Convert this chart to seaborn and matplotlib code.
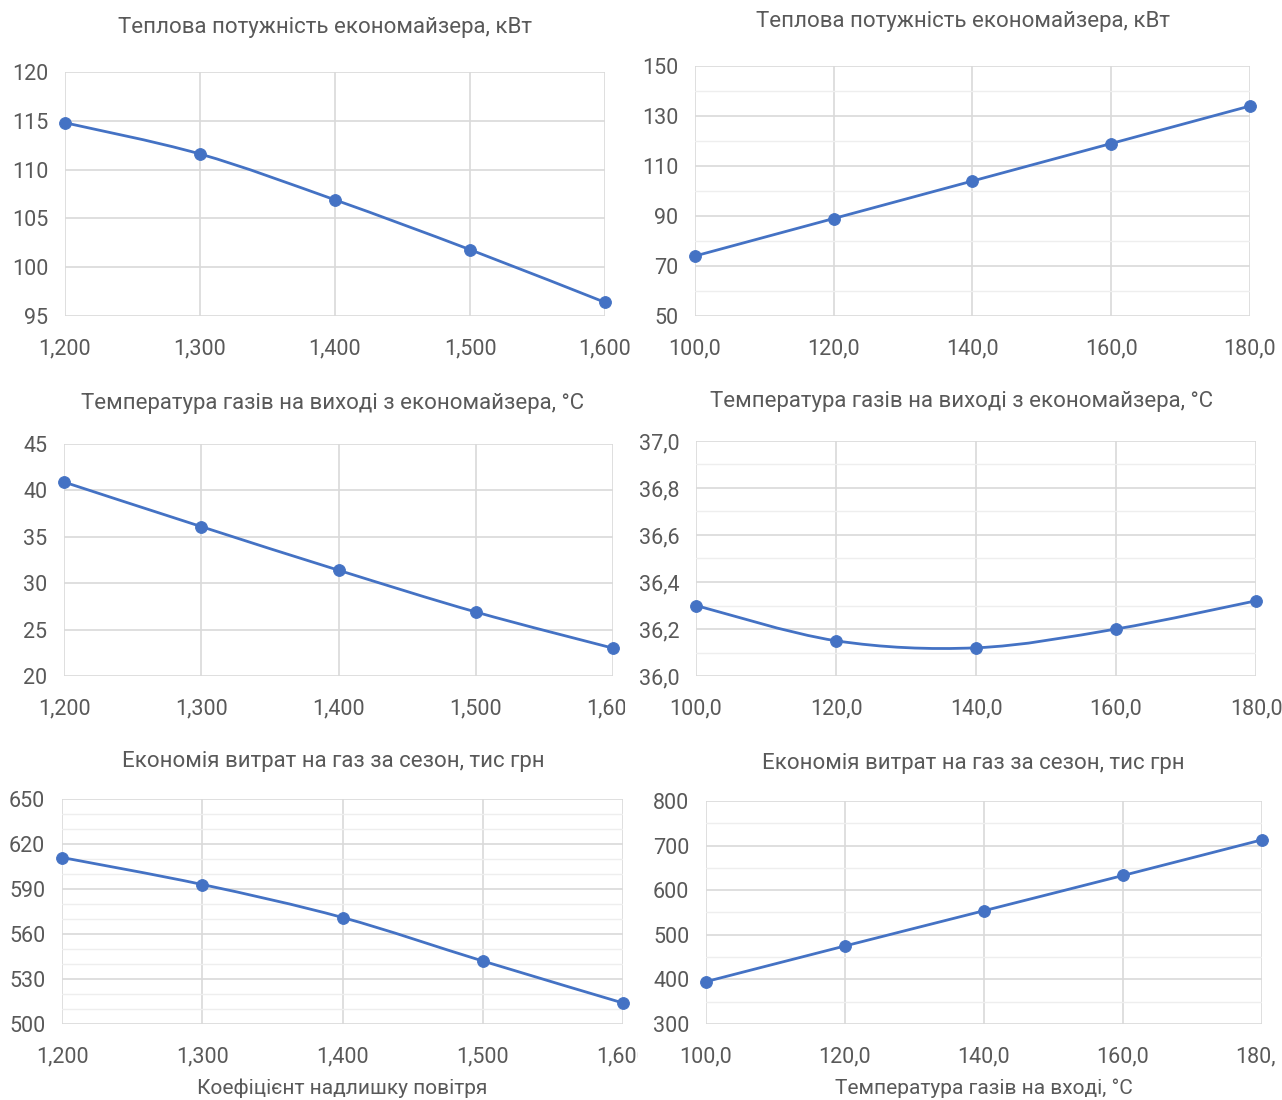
import numpy as np
import matplotlib
matplotlib.use("Agg")
import matplotlib.pyplot as plt
import seaborn as sns
from matplotlib.path import Path
from matplotlib.patches import PathPatch
from matplotlib.ticker import FuncFormatter
from matplotlib.transforms import Bbox, TransformedBbox

# дані, зчитані з графіків
alpha = [1.2, 1.3, 1.4, 1.5, 1.6]
t_in = [100, 120, 140, 160, 180]

q_alpha = [114.8, 111.6, 106.9, 101.8, 96.4]
q_tin = [74, 89, 104, 119, 134]
tout_alpha = [40.9, 36.1, 31.4, 26.9, 23.0]
tout_tin = [36.30, 36.15, 36.12, 36.20, 36.32]
econ_alpha = [611, 593, 571, 542, 514]
econ_tin = [395, 475, 554, 633, 713]

title_q = "Теплова потужність економайзера, кВт"
title_t = "Температура газів на виході з економайзера, °C"
title_e = "Економія витрат на газ за сезон, тис грн"
xlabel_alpha = "Коефіцієнт надлишку повітря"
xlabel_tin = "Температура газів на вході, °C"

W, H = 1282, 1100
BLUE = "#4472C4"
TXT = "#595959"
GRID = "#D9D9D9"
MINOR = "#EEEEEE"

sns.set_theme(style="white")
plt.rcParams["font.family"] = ["Roboto", "DejaVu Sans"]

fig = plt.figure(figsize=(W / 100, H / 100), dpi=100)


def smooth_path(xs, ys):
    # згладжена лінія як в Excel (кубічні Безьє через точки)
    pts = np.column_stack([xs, ys]).astype(float)
    n = len(pts)
    verts = [pts[0]]
    codes = [Path.MOVETO]
    for i in range(n - 1):
        p0 = pts[i - 1] if i > 0 else pts[i]
        p1, p2 = pts[i], pts[i + 1]
        p3 = pts[i + 2] if i + 2 < n else pts[i + 1]
        c1 = p1 + (p2 - p0) / 6
        c2 = p2 - (p3 - p1) / 6
        verts += [c1, c2, p2]
        codes += [Path.CURVE4] * 3
    return Path(verts, codes)


def panel(box, xs, ys, xfmt, yfmt, ylim, ymaj, ymin, title, tcx, tcy,
          xlabel=None, clip_last=None):
    left, right, top, bottom = box
    ax = fig.add_axes([left / W, 1 - bottom / H, (right - left) / W, (bottom - top) / H])
    ax.add_patch(PathPatch(smooth_path(xs, ys), fill=False, edgecolor=BLUE,
                           lw=2.0, transform=ax.transData, zorder=3, capstyle="round"))
    sns.scatterplot(x=xs, y=ys, ax=ax, color=BLUE, edgecolor=BLUE, s=72,
                    zorder=4, clip_on=False)
    ax.set_xlim(xs[0], xs[-1])
    ax.set_ylim(*ylim)
    ax.set_xticks(xs)
    ax.set_yticks(np.arange(ylim[0], ylim[1] + ymaj / 2, ymaj))
    if ymin:
        ax.set_yticks(np.arange(ylim[0], ylim[1] + ymin / 2, ymin), minor=True)
        ax.grid(which="minor", axis="y", color=MINOR, lw=1.0)
    ax.set_ylim(*ylim)
    ax.grid(which="major", color=GRID, lw=1.2)
    ax.set_axisbelow(True)
    for s in ax.spines.values():
        s.set_visible(False)
    ax.xaxis.set_major_formatter(FuncFormatter(lambda v, p: (xfmt % v).replace(".", ",")))
    ax.yaxis.set_major_formatter(FuncFormatter(lambda v, p: (yfmt % v).replace(".", ",")))
    ax.tick_params(axis="both", which="both", length=0, labelsize=15.5, labelcolor=TXT)
    ax.tick_params(axis="x", pad=16)
    ax.tick_params(axis="y", pad=12)
    fig.text(tcx / W, 1 - tcy / H, title, ha="center", va="center", fontsize=16, color=TXT)
    if xlabel:
        ax.set_xlabel(xlabel, fontsize=15, color=TXT, labelpad=8)
    if clip_last:
        # у оригіналі останній підпис обрізано краєм діаграми
        lbl = ax.xaxis.get_major_ticks()[-1].label1
        lbl.set_clip_on(True)
        lbl.set_clip_box(TransformedBbox(Bbox([[0, 0], [clip_last / W, 1]]), fig.transFigure))
    return ax


panel((65, 605, 72, 316), alpha, q_alpha, "%.3f", "%.0f", (95, 120), 5, None,
      title_q, 325, 28)
panel((695, 1250, 66, 316), t_in, q_tin, "%.1f", "%.0f", (50, 150), 20, 10,
      title_q, 963, 22)
panel((64, 613, 444, 676), alpha, tout_alpha, "%.3f", "%.0f", (20, 45), 5, None,
      title_t, 333, 404, clip_last=625)
panel((696, 1256, 441, 676), t_in, tout_tin, "%.1f", "%.1f", (36.0, 37.0), 0.2, 0.1,
      title_t, 962, 401)
panel((62, 623, 799, 1024), alpha, econ_alpha, "%.3f", "%.0f", (500, 650), 30, 10,
      title_e, 333, 761, xlabel=xlabel_alpha, clip_last=638)
panel((706, 1262, 801, 1024), t_in, econ_tin, "%.1f", "%.0f", (300, 800), 100, 50,
      title_e, 973, 763, xlabel=xlabel_tin, clip_last=1276)

fig.savefig("out.png", dpi=100, facecolor="white")
